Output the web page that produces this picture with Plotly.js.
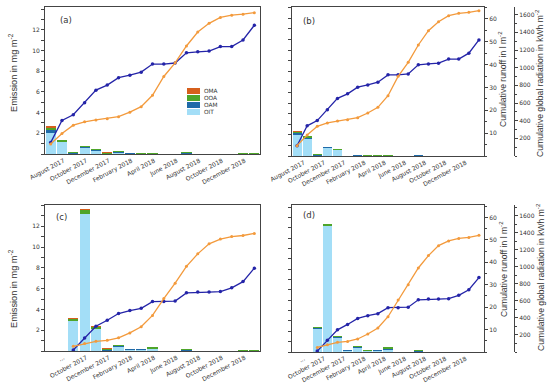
<!DOCTYPE html>
<html>
<head>
<meta charset="utf-8">
<script src="https://cdn.plot.ly/plotly-3.0.1.min.js"></script>
<style>html,body{margin:0;padding:0;background:#fff;}#chart{width:550px;height:388px;}</style>
</head>
<body>
<div id="chart"></div>
<script>
// ---- categories (months) ----
var months = ["August 2017","September 2017","October 2017","November 2017","December 2017","January 2018","February 2018","March 2018","April 2018","May 2018","June 2018","July 2018","August 2018","September 2018","October 2018","November 2018","December 2018","January 2019","February 2019"];
var tickMonthsAB = ["August 2017","October 2017","December 2017","February 2018","April 2018","June 2018","August 2018","October 2018","December 2018"];
var tickTextAB = ["August 2017","October 2017","December 2017","February 2018","April 2018","June 2018","August 2018","October 2018","December 2018"];
var tickTextCD = ["...","October 2017","December 2017","February 2018","April 2018","June 2018","August 2018","October 2018","December 2018"];
var monthsCD = months.slice(2);

// ---- series names ----
var compNames = ["OIT","OAM","OOA","OMA"];

// ---- panel (a) emissions, mg m-2 ----
var OIT_a = [2.06,1.13,0.02,0.60,0.32,0,0.05,0,0,0,0,0,0,0,0,0,0,0,0];
var OAM_a = [0.26,0.05,0.08,0.10,0.03,0.02,0.10,0.05,0.04,0.04,0,0,0.10,0,0,0,0,0.02,0.03];
var OOA_a = [0.23,0.13,0.06,0.08,0.10,0.05,0.12,0.04,0.03,0.03,0,0,0.10,0,0,0,0,0.04,0.02];
var OMA_a = [0.16,0.07,0,0,0.04,0.08,0,0,0,0,0,0,0,0,0,0,0,0,0];
// ---- panel (b) ----
var OIT_b = [2.00,1.64,0.02,0.72,0.55,0,0.03,0,0,0,0,0,0,0,0,0,0,0,0];
var OAM_b = [0.15,0.10,0.08,0.10,0.02,0,0.03,0.04,0.04,0.04,0,0,0.06,0,0,0,0,0.01,0];
var OOA_b = [0.15,0.12,0.05,0.06,0.06,0,0.07,0.02,0.02,0.02,0,0,0.06,0,0,0,0,0.03,0];
var OMA_b = [0.08,0.03,0,0,0.01,0.02,0,0,0,0,0,0,0,0,0,0,0,0,0];
// ---- panel (c) (from October 2017) ----
var OIT_c = [2.88,13.15,2.07,0,0.40,0.10,0.10,0.15,0,0,0,0,0,0,0,0,0];
var OAM_c = [0.05,0.05,0.05,0.05,0.04,0.08,0.08,0.08,0,0,0.07,0,0,0,0,0.04,0.04];
var OOA_c = [0.17,0.33,0.20,0.15,0.12,0.02,0.02,0.15,0,0,0.08,0,0,0,0,0.03,0.03];
var OMA_c = [0.08,0.10,0.06,0.10,0,0,0,0,0,0,0,0,0,0,0,0,0];
// ---- panel (d) (from October 2017) ----
var OIT_d = [2.26,12.14,1.39,0.10,0.42,0.08,0.12,0.20,0,0,0,0,0,0,0,0,0];
var OAM_d = [0.08,0.05,0.03,0.05,0.03,0.05,0.08,0.12,0,0,0.08,0,0,0,0,0,0];
var OOA_d = [0.08,0.15,0.10,0.05,0.10,0.02,0.02,0.16,0,0,0.07,0,0,0,0,0,0];
var OMA_d = [0,0.02,0,0,0,0,0,0,0,0,0,0,0,0,0,0,0];

// ---- cumulative runoff (l m-2) and global radiation (kWh m-2) ----
var runoff1 = [4.5,13.2,15.5,20.2,25.2,27.2,30.1,31.1,32.3,35.5,35.5,35.9,39.9,40.3,40.6,42.4,42.4,45.0,50.8];
var radiation1 = [117,238,336,374,396,411,434,487,551,683,902,1061,1257,1419,1521,1589,1616,1627,1645];
var runoff2 = [0.4,5.2,9.9,12.3,15.0,16.2,17.1,19.8,19.8,20.0,23.3,23.6,23.6,23.8,25.3,27.8,33.2];
var radiation2 = [54,86,113,124,153,211,282,414,610,790,986,1131,1248,1303,1333,1345,1369];

// ---- styling ----
var compColors = {OIT:"#a3def7", OAM:"#1f6aa8", OOA:"#4ea52a", OMA:"#d65f1c"};
var blue = "#2424a8", orange = "#f39a3c", axc = "#444", txt = "#333";
var W = 550, H = 388;
function xd(a,b){return [a/W, b/W];}
function yd(t,b){return [1-b/H, 1-t/H];}

var panels = [
  {id:"a", x:"x",  y:"y",  yr:"y2",  yg:"y3",  cats:months,   comps:{OIT:OIT_a,OAM:OAM_a,OOA:OOA_a,OMA:OMA_a}, run:runoff1, rad:radiation1},
  {id:"b", x:"x2", y:"y4", yr:"y5",  yg:"y6",  cats:months,   comps:{OIT:OIT_b,OAM:OAM_b,OOA:OOA_b,OMA:OMA_b}, run:runoff1, rad:radiation1},
  {id:"c", x:"x3", y:"y7", yr:"y8",  yg:"y9",  cats:monthsCD, comps:{OIT:OIT_c,OAM:OAM_c,OOA:OOA_c,OMA:OMA_c}, run:runoff2, rad:radiation2},
  {id:"d", x:"x4", y:"y10",yr:"y11", yg:"y12", cats:monthsCD, comps:{OIT:OIT_d,OAM:OAM_d,OOA:OOA_d,OMA:OMA_d}, run:runoff2, rad:radiation2}
];

var traces = [];
panels.forEach(function(p){
  compNames.forEach(function(c){
    traces.push({type:"bar", name:c, x:p.cats, y:p.comps[c], xaxis:p.x, yaxis:p.y,
      marker:{color:compColors[c], line:{width:0}}, showlegend:false, hoverinfo:"x+y+name"});
  });
  traces.push({type:"scatter", mode:"lines+markers", name:"Cumulative runoff", x:p.cats, y:p.run, xaxis:p.x, yaxis:p.yr,
    line:{color:blue, width:1.3}, marker:{color:blue, size:3.5}, showlegend:false});
  traces.push({type:"scatter", mode:"lines+markers", name:"Cumulative global radiation", x:p.cats, y:p.rad, xaxis:p.x, yaxis:p.yg,
    line:{color:orange, width:1.3}, marker:{color:orange, size:3}, showlegend:false});
});

var tickFont = {family:"DejaVu Sans", size:6, color:txt};
function xAxis(dom, anchor, ttext, shift){
  return {domain:dom, anchor:anchor, type:"category", categoryorder:"array", categoryarray:months,
    range:[-0.5,18.5], tickmode:"array", tickvals:tickMonthsAB, ticktext:ttext, tickangle:-28,
    ticks:"", ticklabelshift:shift, showline:true, mirror:true, linecolor:axc, linewidth:1,
    showgrid:false, zeroline:false, tickfont:tickFont, fixedrange:true};
}
function emisAxis(dom, anchor, top, labels){
  return {domain:dom, anchor:anchor, range:[0,top], tickmode:"array", tickvals:[2,4,6,8,10,12],
    showticklabels:labels, ticks:"outside", ticklen:3, tickcolor:axc,
    minor:{tickmode:"linear", tick0:0, dtick:1, ticks:"outside", ticklen:3, tickcolor:axc, showgrid:false},
    showline:true, mirror:true, linecolor:axc, linewidth:1, showgrid:false, zeroline:false, tickfont:tickFont, fixedrange:true};
}
function hidden(over, top){ return {overlaying:over, range:[0,top], visible:false, fixedrange:true}; }
function runAxis(over, anchor, top){
  return {overlaying:over, anchor:anchor, side:"right", range:[0,top], tickmode:"array", tickvals:[10,20,30,40,50,60],
    ticks:"outside", ticklen:3, tickcolor:axc,
    minor:{tickmode:"linear", tick0:0, dtick:5, ticks:"outside", ticklen:2, tickcolor:axc, showgrid:false},
    showline:true, linecolor:axc, linewidth:1, showgrid:false, zeroline:false, tickfont:tickFont, fixedrange:true};
}
function radAxis(over, top){
  return {overlaying:over, anchor:"free", position:514/W, side:"right", range:[0,top],
    tickmode:"array", tickvals:[200,400,600,800,1000,1200,1400,1600],
    ticks:"outside", ticklen:3, tickcolor:axc,
    minor:{tickmode:"linear", tick0:0, dtick:100, ticks:"outside", ticklen:2, tickcolor:axc, showgrid:false},
    showline:true, linecolor:axc, linewidth:1, showgrid:false, zeroline:false, tickfont:tickFont, fixedrange:true};
}

var annotations = [];
function ann(text, xpx, ypx, size, opts){
  var a = {text:text, x:xpx/W, y:1-ypx/H, xref:"paper", yref:"paper", showarrow:false,
    xanchor:"center", yanchor:"middle", font:{family:"Liberation Sans", size:size, color:txt}};
  for (var k in opts) a[k] = opts[k];
  annotations.push(a);
}
// axis titles
ann("Emission in mg m<sup>-2</sup>", 13, 73, 9.2, {textangle:-90});
ann("Emission in mg m<sup>-2</sup>", 13, 289, 9.2, {textangle:-90});
ann("Cumulative runoff in l m<sup>-2</sup>", 503, 79, 8.6, {textangle:-90});
ann("Cumulative runoff in l m<sup>-2</sup>", 503, 269, 8.6, {textangle:-90});
ann("Cumulative global radiation in kWh m<sup>-2</sup>", 539, 83, 8.6, {textangle:-90});
ann("Cumulative global radiation in kWh m<sup>-2</sup>", 540, 277, 8.6, {textangle:-90});
// panel labels
var fontPanel = "DejaVu Sans";
ann("(a)", 66, 20, 8.5, {font:{family:fontPanel, size:8.5, color:txt}});
ann("(b)", 309, 21, 8.5, {font:{family:fontPanel, size:8.5, color:txt}});
ann("(c)", 61, 217, 8.5, {font:{family:fontPanel, size:8.5, color:txt}});
ann("(d)", 309, 215, 8.5, {font:{family:fontPanel, size:8.5, color:txt}});

// custom compact legend in panel (a)
var shapes = [];
var legendOrder = ["OMA","OOA","OAM","OIT"];
legendOrder.forEach(function(c, i){
  var top = 88 + i*7;
  shapes.push({type:"rect", xref:"paper", yref:"paper", x0:187/W, x1:200/W, y0:1-(top+6)/H, y1:1-top/H,
    fillcolor:compColors[c], line:{width:0}});
  ann(c, 201.5, top+3, 5.8, {xanchor:"left", font:{family:"DejaVu Sans", size:5.8, color:txt}});
});

var layout = {
  width:W, height:H, margin:{l:0,r:0,t:0,b:0}, paper_bgcolor:"#fff", plot_bgcolor:"rgba(0,0,0,0)",
  barmode:"stack", bargap:0.1, showlegend:false,
  xaxis:  xAxis(xd(45,260), "y", tickTextAB, 13),
  xaxis2: xAxis(xd(292,484), "y4", tickTextAB, 7),
  xaxis3: xAxis(xd(45,260), "y7", tickTextCD, 13),
  xaxis4: xAxis(xd(292,484), "y10", tickTextCD, 7),
  yaxis:  emisAxis(yd(7,154), "x", 14.2, true),
  yaxis2: hidden("y", 58),
  yaxis3: hidden("y", 1711),
  yaxis4: emisAxis(yd(7,156), "x2", 14.06, false),
  yaxis5: runAxis("y4", "x2", 65.2),
  yaxis6: radAxis("y4", 1687),
  yaxis7: emisAxis(yd(205,351), "x3", 14.04, true),
  yaxis8: hidden("y7", 58.5),
  yaxis9: hidden("y7", 1700),
  yaxis10: emisAxis(yd(205,352), "x4", 14.2, false),
  yaxis11: runAxis("y10", "x4", 65.6),
  yaxis12: radAxis("y10", 1725),
  annotations:annotations, shapes:shapes
};

Plotly.newPlot("chart", traces, layout, {displayModeBar:false, staticPlot:true});
</script>
</body>
</html>
